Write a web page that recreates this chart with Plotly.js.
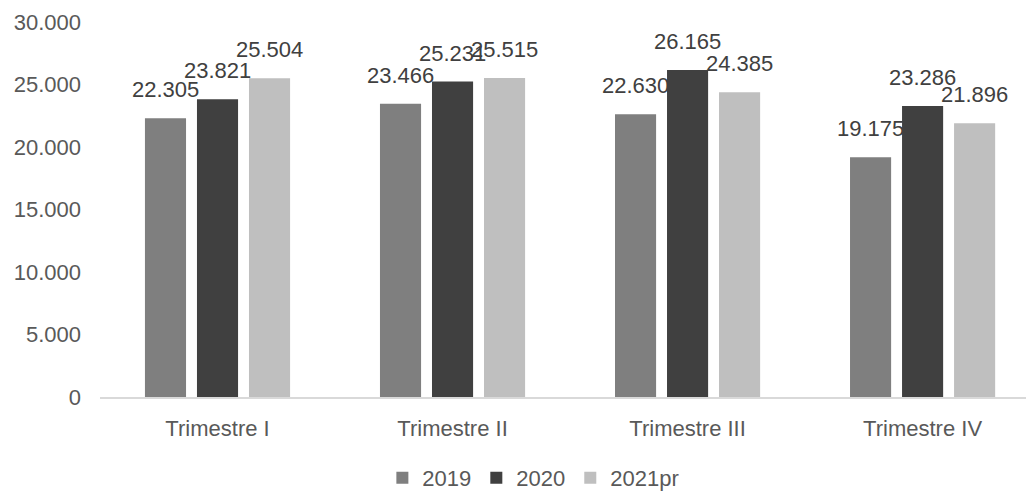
<!DOCTYPE html>
<html>
<head>
<meta charset="utf-8">
<script src="https://cdn.plot.ly/plotly-3.0.1.min.js"></script>
<style>html,body{margin:0;padding:0;background:#fff}#chart{width:1026px;height:493px}</style>
</head>
<body>
<div id="chart"></div>
<script>
var categories = ["Trimestre I", "Trimestre II", "Trimestre III", "Trimestre IV"];
var seriesNames = ["2019", "2020", "2021pr"];
var values2019 = [22305, 23466, 22630, 19175];
var values2020 = [23821, 25231, 26165, 23286];
var values2021pr = [25504, 25515, 24385, 21896];
var yTickVals = [0, 5000, 10000, 15000, 20000, 25000, 30000];
var colors = ["#7f7f7f", "#404040", "#bfbfbf"];

var allSeries = [values2019, values2020, values2021pr];
var FONT = "Liberation Sans, Arial, sans-serif";
var FS = 22;

var traces = allSeries.map(function (vals, j) {
  return {
    type: "bar",
    name: seriesNames[j],
    x: categories,
    y: vals,
    marker: { color: colors[j] },
    hoverinfo: "x+y+name"
  };
});

function fmt(v) {
  return String(v).replace(/\B(?=(\d{3})+(?!\d))/g, ".");
}

var annotations = [];
allSeries.forEach(function (vals, j) {
  vals.forEach(function (v, i) {
    annotations.push({
      x: categories[i], y: v, xref: "x", yref: "y",
      text: fmt(v), showarrow: false,
      xanchor: "center", yanchor: "bottom",
      xshift: (j - 1) * 52, yshift: 14,
      font: { family: FONT, size: FS, color: "#404040" }
    });
  });
});

var layout = {
  width: 1026, height: 493,
  margin: { l: 100, r: 0, t: 22, b: 96, autoexpand: false },
  paper_bgcolor: "#ffffff", plot_bgcolor: "#ffffff",
  separators: ",.",
  barmode: "group",
  bargap: 0.336,
  bargroupgap: 0.21,
  showlegend: true,
  legend: {
    orientation: "h", x: 0.468, xanchor: "center", y: -0.16, yanchor: "top",
    font: { family: FONT, size: FS, color: "#595959" },
    traceorder: "normal", itemwidth: 30
  },
  xaxis: {
    type: "category",
    range: [-0.5, 3.44],
    automargin: false,
    showline: true, linecolor: "#d9d9d9", linewidth: 1.5,
    showgrid: false, zeroline: false, ticks: "",
    ticklabelstandoff: 11,
    tickfont: { family: FONT, size: FS, color: "#595959" }
  },
  yaxis: {
    range: [0, 30000],
    automargin: false,
    tickvals: yTickVals,
    ticktext: yTickVals.map(fmt),
    showgrid: false, zeroline: false, showline: false, ticks: "",
    ticklabelstandoff: 18,
    tickfont: { family: FONT, size: FS, color: "#595959" }
  },
  annotations: annotations,
  font: { family: FONT, color: "#595959" }
};

Plotly.newPlot("chart", traces, layout, { displayModeBar: false, staticPlot: true });
</script>
</body>
</html>
